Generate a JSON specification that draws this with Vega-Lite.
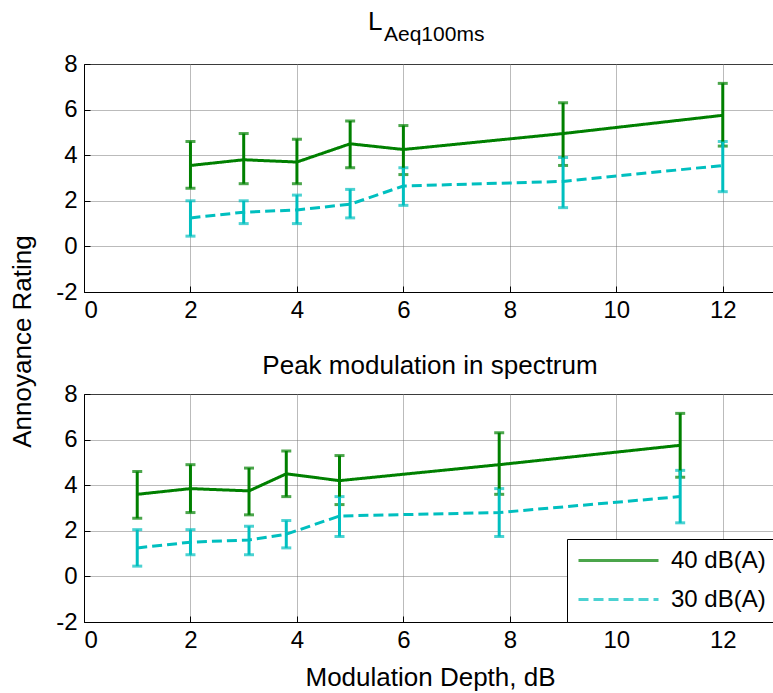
{
  "$schema": "https://vega.github.io/schema/vega-lite/v6.json",
  "padding": {"left": 9, "top": 8, "right": 0, "bottom": 0},
  "background": "white",
  "title": {
    "text": "L",
    "anchor": "start",
    "frame": "group",
    "align": "left",
    "dx": 284,
    "fontSize": 26,
    "offset": -11
  },
  "config": {
    "font": "Liberation Sans",
    "view": {"stroke": "black", "strokeWidth": 1},
    "axis": {
      "domainColor": "black",
      "gridColor": "#777777",
      "gridDash": [1, 1],
      "gridOpacity": 1,
      "tickColor": "black",
      "tickSize": -6,
      "labelFontSize": 24,
      "labelColor": "black",
      "labelFont": "Liberation Sans",
      "titleFontSize": 26,
      "titleFontWeight": "normal",
      "titleColor": "black",
      "titleFont": "Liberation Sans"
    },
    "title": {"fontSize": 26, "fontWeight": "normal", "font": "Liberation Sans", "color": "black"},
    "legend": {
      "symbolType": "stroke",
      "symbolSize": 6400,
      "symbolStrokeWidth": 3,
      "clipHeight": 23,
      "rowPadding": 14,
      "labelFontSize": 24,
      "labelFont": "Liberation Sans",
      "labelColor": "black",
      "labelOffset": 11,
      "labelLimit": 0,
      "strokeColor": "black",
      "fillColor": "white",
      "padding": 10,
      "orient": "bottom-right",
      "offset": 0
    }
  },
  "datasets": {
    "top": [
      {"x": 2, "series": "40 dB(A)", "y": 3.55, "lo": 2.55, "hi": 4.6},
      {"x": 3, "series": "40 dB(A)", "y": 3.8, "lo": 2.75, "hi": 4.95},
      {"x": 4, "series": "40 dB(A)", "y": 3.7, "lo": 2.75, "hi": 4.7},
      {"x": 5, "series": "40 dB(A)", "y": 4.5, "lo": 3.45, "hi": 5.5},
      {"x": 6, "series": "40 dB(A)", "y": 4.25, "lo": 3.15, "hi": 5.3},
      {"x": 9, "series": "40 dB(A)", "y": 4.95, "lo": 3.55, "hi": 6.3},
      {"x": 12, "series": "40 dB(A)", "y": 5.75, "lo": 4.4, "hi": 7.15},
      {"x": 2, "series": "30 dB(A)", "y": 1.25, "lo": 0.45, "hi": 2.0},
      {"x": 3, "series": "30 dB(A)", "y": 1.5, "lo": 1.0, "hi": 2.0},
      {"x": 4, "series": "30 dB(A)", "y": 1.6, "lo": 1.0, "hi": 2.25},
      {"x": 5, "series": "30 dB(A)", "y": 1.85, "lo": 1.25, "hi": 2.5},
      {"x": 6, "series": "30 dB(A)", "y": 2.65, "lo": 1.8, "hi": 3.45},
      {"x": 9, "series": "30 dB(A)", "y": 2.85, "lo": 1.7, "hi": 3.9},
      {"x": 12, "series": "30 dB(A)", "y": 3.55, "lo": 2.4, "hi": 4.6}
    ],
    "bottom": [
      {"x": 1, "series": "40 dB(A)", "y": 3.6, "lo": 2.55, "hi": 4.6},
      {"x": 2, "series": "40 dB(A)", "y": 3.85, "lo": 2.8, "hi": 4.9},
      {"x": 3.1, "series": "40 dB(A)", "y": 3.75, "lo": 2.7, "hi": 4.75},
      {"x": 3.8, "series": "40 dB(A)", "y": 4.5, "lo": 3.5, "hi": 5.5},
      {"x": 4.8, "series": "40 dB(A)", "y": 4.2, "lo": 3.15, "hi": 5.3},
      {"x": 7.8, "series": "40 dB(A)", "y": 4.9, "lo": 3.6, "hi": 6.3},
      {"x": 11.2, "series": "40 dB(A)", "y": 5.75, "lo": 4.35, "hi": 7.15},
      {"x": 1, "series": "30 dB(A)", "y": 1.25, "lo": 0.45, "hi": 2.05},
      {"x": 2, "series": "30 dB(A)", "y": 1.5, "lo": 0.95, "hi": 2.05},
      {"x": 3.1, "series": "30 dB(A)", "y": 1.6, "lo": 0.95, "hi": 2.2},
      {"x": 3.8, "series": "30 dB(A)", "y": 1.85, "lo": 1.25, "hi": 2.45},
      {"x": 4.8, "series": "30 dB(A)", "y": 2.65, "lo": 1.75, "hi": 3.5},
      {"x": 7.8, "series": "30 dB(A)", "y": 2.8, "lo": 1.75, "hi": 3.85},
      {"x": 11.2, "series": "30 dB(A)", "y": 3.5, "lo": 2.35, "hi": 4.65}
    ]
  },
  "bounds": "flush",
  "spacing": 102,
  "resolve": {
    "scale": {"color": "independent", "strokeDash": "independent"},
    "legend": {"color": "independent", "strokeDash": "independent"}
  },
  "vconcat": [
    {
      "width": 692,
      "height": 228,
      "data": {"name": "top"},
      "title": {
        "text": "Aeq100ms",
        "anchor": "start",
        "frame": "group",
        "align": "left",
        "dx": 300,
        "fontSize": 21,
        "offset": 7
      },
      "encoding": {
        "x": {"field": "x", "type": "quantitative",
              "scale": {"domain": [0, 13], "nice": false, "zero": false},
              "axis": {"values": [0, 2, 4, 6, 8, 10, 12], "title": null, "labelPadding": 12}},
        "color": {"field": "series", "type": "nominal",
                  "scale": {"domain": ["40 dB(A)", "30 dB(A)"], "range": ["#008000", "#00BFBF"]},
                  "legend": null}
      },
      "layer": [
        {
          "mark": {"type": "line", "strokeWidth": 3},
          "encoding": {
            "y": {"field": "y", "type": "quantitative",
                  "scale": {"domain": [-2, 8], "nice": false, "zero": false},
                  "axis": {"values": [-2, 0, 2, 4, 6, 8], "labelExpr": "'' + datum.value", "title": "Annoyance Rating", "labelPadding": 13, "titleY": 277, "titlePadding": 20}},
            "strokeDash": {"field": "series", "type": "nominal",
                           "scale": {"domain": ["40 dB(A)", "30 dB(A)"], "range": [[1, 0], [10, 5]]},
                           "legend": null}
          }
        },
        {
          "mark": {"type": "errorbar", "ticks": true, "size": 10, "thickness": 3},
          "encoding": {
            "y": {"field": "lo", "type": "quantitative",
                  "scale": {"domain": [-2, 8], "nice": false, "zero": false},
                  "axis": {"values": [-2, 0, 2, 4, 6, 8], "labelExpr": "'' + datum.value", "title": "Annoyance Rating", "labelPadding": 13, "titleY": 277, "titlePadding": 20}},
            "y2": {"field": "hi"}
          }
        }
      ]
    },
    {
      "width": 692,
      "height": 228,
      "data": {"name": "bottom"},
      "title": {
        "text": "Peak modulation in spectrum",
        "anchor": "middle",
        "frame": "group",
        "fontSize": 26,
        "offset": 3
      },
      "encoding": {
        "x": {"field": "x", "type": "quantitative",
              "scale": {"domain": [0, 13], "nice": false, "zero": false},
              "axis": {"values": [0, 2, 4, 6, 8, 10, 12], "title": "Modulation Depth, dB", "labelPadding": 12, "titlePadding": 12}},
        "color": {"field": "series", "type": "nominal",
                  "scale": {"domain": ["40 dB(A)", "30 dB(A)"], "range": ["#008000", "#00BFBF"]},
                  "legend": {"title": null}}
      },
      "layer": [
        {
          "mark": {"type": "line", "strokeWidth": 3},
          "encoding": {
            "y": {"field": "y", "type": "quantitative",
                  "scale": {"domain": [-2, 8], "nice": false, "zero": false},
                  "axis": {"values": [-2, 0, 2, 4, 6, 8], "labelExpr": "'' + datum.value", "title": null, "labelPadding": 13}},
            "strokeDash": {"field": "series", "type": "nominal",
                           "scale": {"domain": ["40 dB(A)", "30 dB(A)"], "range": [[1, 0], [10, 5]]},
                           "legend": {"title": null}}
          }
        },
        {
          "mark": {"type": "errorbar", "ticks": true, "size": 10, "thickness": 3},
          "encoding": {
            "y": {"field": "lo", "type": "quantitative",
                  "scale": {"domain": [-2, 8], "nice": false, "zero": false},
                  "axis": {"values": [-2, 0, 2, 4, 6, 8], "labelExpr": "'' + datum.value", "title": null, "labelPadding": 13}},
            "y2": {"field": "hi"}
          }
        }
      ]
    }
  ]
}
